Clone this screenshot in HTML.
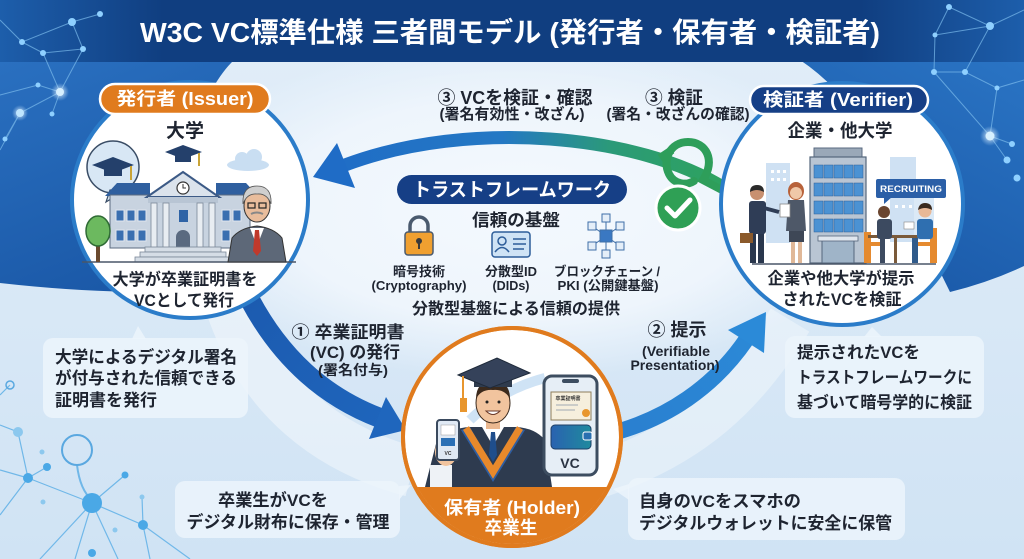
<!DOCTYPE html>
<html><head><meta charset="utf-8">
<style>
html,body{margin:0;padding:0;width:1024px;height:559px;overflow:hidden;background:#d6e7f6}
svg{display:block}
text{font-family:"Liberation Sans","Noto Sans CJK JP",sans-serif;font-weight:bold}
</style></head><body>
<svg width="1024" height="559" viewBox="0 0 1024 559" xmlns="http://www.w3.org/2000/svg">
<defs>
 <linearGradient id="bgG" x1="0" y1="0" x2="0" y2="1"><stop offset="0" stop-color="#e2eef9"/><stop offset="1" stop-color="#d0e3f4"/></linearGradient>
 <radialGradient id="midG" cx="0.5" cy="0.5" r="0.5"><stop offset="0" stop-color="#f4f9fe"/><stop offset="0.65" stop-color="#eef5fc"/><stop offset="1" stop-color="#eef5fc" stop-opacity="0"/></radialGradient>
 <linearGradient id="titleG" x1="0" x2="1"><stop offset="0" stop-color="#1d5eab"/><stop offset="0.16" stop-color="#103e80"/><stop offset="0.84" stop-color="#103e80"/><stop offset="1" stop-color="#1d5eab"/></linearGradient>
 <linearGradient id="leftB" x1="0" y1="0" x2="0.4" y2="1"><stop offset="0" stop-color="#2a70c0"/><stop offset="1" stop-color="#1b59a8"/></linearGradient>
 <linearGradient id="rightB" x1="1" y1="0" x2="0.5" y2="1"><stop offset="0" stop-color="#2a74c4"/><stop offset="1" stop-color="#1b5aa9"/></linearGradient>
 <linearGradient id="arr3" gradientUnits="userSpaceOnUse" x1="320" y1="0" x2="725" y2="0"><stop offset="0" stop-color="#1f6cc6"/><stop offset="0.45" stop-color="#2478c4"/><stop offset="0.72" stop-color="#2b9a78"/><stop offset="1" stop-color="#2ea35e"/></linearGradient>
 <linearGradient id="arr1" gradientUnits="userSpaceOnUse" x1="250" y1="300" x2="400" y2="430"><stop offset="0" stop-color="#1c5bb0"/><stop offset="1" stop-color="#1f66bd"/></linearGradient>
 <linearGradient id="arr2" gradientUnits="userSpaceOnUse" x1="610" y1="430" x2="765" y2="315"><stop offset="0" stop-color="#2a7fcf"/><stop offset="1" stop-color="#2b8ad8"/></linearGradient>
 <linearGradient id="walG" x1="0" x2="1"><stop offset="0" stop-color="#2a62b0"/><stop offset="1" stop-color="#1f8a9e"/></linearGradient>
 <clipPath id="holdClip"><circle cx="512" cy="437" r="107"/></clipPath>
 <radialGradient id="glow"><stop offset="0" stop-color="#ffffff" stop-opacity="0.9"/><stop offset="1" stop-color="#bfe2ff" stop-opacity="0"/></radialGradient>
</defs>

<!-- background -->
<rect width="1024" height="559" fill="url(#bgG)"/>
<ellipse cx="515" cy="210" rx="360" ry="170" fill="url(#midG)"/>
<path d="M0,60 H234 C215,78 200,110 185,150 L150,292 Q80,292 0,283 Z" fill="url(#leftB)"/>
<path d="M800,60 H1024 V266 Q990,282 950,292 L880,150 Q845,90 800,60 Z" fill="url(#rightB)"/>
<rect x="0" y="0" width="1024" height="62" fill="url(#titleG)"/>

<!-- network top-left -->
<g stroke="#7cbcec" stroke-width="1" opacity="0.7" fill="none">
 <path d="M100,14 L72,22 L22,42 L43,53 L83,49 L72,22"/>
 <path d="M22,42 L0,20 M43,53 L60,92 L20,113 L5,139 M60,92 L52,114 M60,92 L38,85 L0,95 M83,49 L60,92 M20,113 L0,150"/>
</g>
<g fill="#8fd0ff">
 <circle cx="100" cy="14" r="3"/><circle cx="72" cy="22" r="4"/><circle cx="22" cy="42" r="3"/><circle cx="43" cy="53" r="3"/><circle cx="83" cy="49" r="3"/><circle cx="38" cy="85" r="2.5"/><circle cx="52" cy="114" r="2.5"/><circle cx="5" cy="139" r="2.5"/>
</g>
<circle cx="60" cy="92" r="9" fill="url(#glow)"/><circle cx="60" cy="92" r="4" fill="#d7f0ff"/>
<circle cx="20" cy="113" r="8" fill="url(#glow)"/><circle cx="20" cy="113" r="4" fill="#bfe6ff"/>

<!-- network top-right -->
<g stroke="#7cbcec" stroke-width="1" opacity="0.7" fill="none">
 <path d="M949,7 L990,26 L935,35 L934,72 L965,72 L997,88 L990,136 L1012,144 M990,26 L1024,10 M965,72 L990,26 M934,72 L990,136 M997,88 L1024,80 M990,136 L1007,160 M949,7 L935,35"/>
</g>
<g fill="#8fd0ff">
 <circle cx="949" cy="7" r="3"/><circle cx="990" cy="26" r="4"/><circle cx="935" cy="35" r="2.5"/><circle cx="934" cy="72" r="3"/><circle cx="965" cy="72" r="3"/><circle cx="997" cy="88" r="2.5"/><circle cx="1012" cy="144" r="3"/><circle cx="1007" cy="160" r="3.5"/><circle cx="1017" cy="178" r="3.5"/>
</g>
<circle cx="990" cy="136" r="10" fill="url(#glow)"/><circle cx="990" cy="136" r="4.5" fill="#d7f0ff"/>

<!-- network bottom-left -->
<g stroke="#5fb0e6" stroke-width="1.2" fill="none" opacity="0.85">
 <path d="M28,478 L18,432 L0,425 M28,478 L0,470 M28,478 L92,503 L143,525 L190,559 M92,503 L125,475 M92,503 L40,559 M92,503 L75,559 M92,503 L118,559 M143,525 L142,497 M143,525 L150,559 M28,478 L0,515 M28,478 L47,467 M0,395 L10,385"/>
 <path d="M77,465 Q80,490 92,500" stroke-width="2"/>
</g>
<circle cx="77" cy="450" r="15" fill="none" stroke="#5aa8e0" stroke-width="2"/>
<circle cx="10" cy="385" r="4" fill="none" stroke="#5aa8e0" stroke-width="1.5"/>
<g fill="#4aa8e6">
 <circle cx="92" cy="503" r="10"/><circle cx="28" cy="478" r="5"/><circle cx="143" cy="525" r="5"/><circle cx="92" cy="553" r="4"/>
 <circle cx="125" cy="475" r="3.5"/><circle cx="47" cy="467" r="4"/>
</g>
<g fill="#8cc8ee">
 <circle cx="18" cy="432" r="5"/><circle cx="42" cy="452" r="2.5"/><circle cx="142" cy="497" r="2.5"/><circle cx="43" cy="502" r="2.5"/><circle cx="115" cy="530" r="2.5"/>
</g>

<!-- light swooshes -->
<path d="M230,305 C262,400 330,450 412,472" stroke="#ffffff" stroke-opacity="0.4" stroke-width="50" fill="none"/>
<path d="M600,475 C690,445 745,395 790,320" stroke="#ffffff" stroke-opacity="0.35" stroke-width="45" fill="none"/>

<!-- callout boxes -->
<g fill="#ecf4fc" fill-opacity="0.85">
 <rect x="43" y="338" width="205" height="80" rx="10"/>
 <polygon points="132,339 146,339 138,326"/>
 <rect x="175" y="481" width="225" height="57" rx="10"/>
 <polygon points="399,486 399,500 411,485"/>
 <rect x="785" y="336" width="199" height="82" rx="10"/>
 <polygon points="864,337 882,337 872,327"/>
 <rect x="628" y="478" width="277" height="62" rx="10"/>
 <polygon points="629,484 629,500 613,489"/>
</g>

<!-- arrow 3 (top) -->
<path d="M724,188 C640,135 470,118 345,165" stroke="url(#arr3)" stroke-width="13" fill="none"/>
<polygon points="313,177 337,143 355,188" fill="#1f6cc6"/>
<!-- green loop & check -->
<path d="M722,190 L703,180 C716,160 706,142 688,142 C670,142 662,160 669,174 C674,184 686,186 694,181" stroke="#2e9e5a" stroke-width="8" fill="none" stroke-linecap="round"/>
<path d="M672,150 L660,158" stroke="#2e9e5a" stroke-width="8" fill="none"/>
<circle cx="678" cy="208" r="22" fill="#2fa055" stroke="#ffffff" stroke-width="3"/>
<path d="M667,208 L675,216 L690,200" stroke="#ffffff" stroke-width="5" fill="none" stroke-linecap="round" stroke-linejoin="round"/>

<!-- arrow 1 -->
<path d="M250,300 C280,356 322,396 380,418" stroke="url(#arr1)" stroke-width="20" fill="none"/>
<polygon points="406,430 386,397 369,439" fill="#1f66bd"/>
<!-- arrow 2 -->
<path d="M605,435 C668,420 715,385 746,340" stroke="url(#arr2)" stroke-width="16" fill="none"/>
<polygon points="766,312 728,330 764,353" fill="#2b8ad8"/>

<!-- LEFT CIRCLE: Issuer -->
<circle cx="190" cy="200" r="118" fill="#ffffff" stroke="#2b7cc9" stroke-width="4"/>
<g fill="#c9def2"><ellipse cx="248" cy="165" rx="21" ry="6"/><circle cx="242" cy="159" r="7"/><circle cx="254" cy="157" r="8"/></g>
<circle cx="113" cy="167" r="26" fill="#d8e7f5" stroke="#3a4d66" stroke-width="1.5"/>
<polygon points="110,190 124,191 106,202" fill="#d8e7f5" stroke="#3a4d66" stroke-width="1.2"/>
<polygon points="92,165 113,157 134,165 113,173" fill="#24406b"/>
<rect x="104" y="168" width="18" height="8" fill="#24406b"/>
<path d="M131,166 V180" stroke="#c9a437" stroke-width="2"/>
<polygon points="165,152 183,145 202,152 183,159" fill="#24406b"/>
<rect x="175" y="155" width="16" height="7" fill="#24406b"/>
<path d="M199,153 V166" stroke="#c9a437" stroke-width="2"/>
<polygon points="105,196 117,183 150,183 150,196" fill="#2f5f9f"/>
<polygon points="216,183 246,183 258,196 216,196" fill="#2f5f9f"/>
<rect x="110" y="195" width="140" height="53" fill="#c8d3e0" stroke="#5b6b80"/>
<polygon points="147,197 183,172 219,197" fill="#dbe3ec" stroke="#3c5a86" stroke-width="2"/>
<circle cx="183" cy="188" r="6" fill="#fff" stroke="#333" stroke-width="1.2"/>
<path d="M183,184 V188 H186" stroke="#333" stroke-width="1" fill="none"/>
<rect x="148" y="197" width="70" height="6" fill="#b8c5d4"/>
<g fill="#e8edf2" stroke="#7a8898" stroke-width="0.8">
 <rect x="151" y="203" width="6" height="45"/><rect x="163" y="203" width="6" height="45"/><rect x="197" y="203" width="6" height="45"/><rect x="209" y="203" width="6" height="45"/>
</g>
<rect x="179" y="210" width="9" height="12" fill="#2e63a6"/>
<path d="M176,248 V237 a7,7 0 0,1 14,0 V248 Z" fill="#5a6a80"/>
<g fill="#3a6fb0" stroke="#e0e6ee" stroke-width="1">
 <rect x="116" y="210" width="8" height="11"/><rect x="127" y="210" width="8" height="11"/><rect x="138" y="210" width="8" height="11"/>
 <rect x="116" y="230" width="8" height="11"/><rect x="127" y="230" width="8" height="11"/><rect x="138" y="230" width="8" height="11"/>
 <rect x="222" y="210" width="8" height="11"/><rect x="233" y="210" width="8" height="11"/><rect x="222" y="230" width="8" height="11"/>
</g>
<rect x="145" y="247" width="76" height="5" fill="#d5dde6" stroke="#7a8898" stroke-width="0.8"/>
<rect x="140" y="252" width="86" height="5" fill="#d5dde6" stroke="#7a8898" stroke-width="0.8"/>
<rect x="135" y="257" width="96" height="5" fill="#d5dde6" stroke="#7a8898" stroke-width="0.8"/>
<path d="M82,262 H296" stroke="#4a5668" stroke-width="1.5"/>
<rect x="96" y="238" width="4" height="24" fill="#6b4a2f"/>
<ellipse cx="98" cy="231" rx="12" ry="15" fill="#6cb95f" stroke="#2f6b35" stroke-width="1.5"/>
<path d="M228,262 L232,238 Q240,228 257,226 Q274,228 282,238 L286,262 Z" fill="#5d6878" stroke="#333" stroke-width="1"/>
<polygon points="250,228 257,246 264,228" fill="#fff"/>
<polygon points="255,230 259,230 261,251 257,256 253,251" fill="#c0392b"/>
<ellipse cx="257" cy="206" rx="13" ry="16" fill="#e9bd9c" stroke="#333" stroke-width="1"/>
<path d="M243,204 Q242,186 257,186 Q272,186 271,204 Q267,193 257,194 Q247,193 243,204 Z" fill="#cfcfcf" stroke="#555" stroke-width="0.8"/>
<g fill="none" stroke="#222" stroke-width="1.2"><rect x="248" y="203" width="7" height="5"/><rect x="259" y="203" width="7" height="5"/></g>
<path d="M251,214 Q257,211 263,214" stroke="#888" stroke-width="2" fill="none"/>

<rect x="100" y="84" width="170" height="30" rx="15" fill="#e07b1e" stroke="#ffffff" stroke-width="2.5"/>
<text x="185" y="105" font-size="18" fill="#fff" text-anchor="middle" textLength="137" lengthAdjust="spacingAndGlyphs">発行者 (Issuer)</text>
<text x="185" y="137" font-size="19" fill="#1e2430" text-anchor="middle">大学</text>
<text x="185" y="285" font-size="16.5" fill="#1e2430" text-anchor="middle" textLength="145" lengthAdjust="spacingAndGlyphs">大学が卒業証明書を</text>
<text x="184" y="306" font-size="16.5" fill="#1e2430" text-anchor="middle" textLength="100" lengthAdjust="spacingAndGlyphs">VCとして発行</text>

<!-- RIGHT CIRCLE: Verifier -->
<circle cx="842" cy="204" r="121" fill="#ffffff" stroke="#2b7cc9" stroke-width="4"/>
<rect x="766" y="163" width="24" height="80" fill="#cfe1f3"/>
<rect x="890" y="157" width="26" height="85" fill="#cfe1f3"/>
<rect x="914" y="190" width="20" height="50" fill="#dbe9f6"/>
<g fill="#ffffff"><rect x="771" y="170" width="3" height="3"/><rect x="777" y="170" width="3" height="3"/><rect x="783" y="170" width="3" height="3"/><rect x="771" y="178" width="3" height="3"/><rect x="777" y="178" width="3" height="3"/><rect x="783" y="178" width="3" height="3"/><rect x="895" y="205" width="3" height="3"/><rect x="902" y="205" width="3" height="3"/><rect x="909" y="205" width="3" height="3"/></g>
<rect x="814" y="148" width="48" height="10" fill="#9aa8b8" stroke="#5a6a80"/>
<rect x="810" y="157" width="56" height="106" fill="#b9c5d3" stroke="#55667c" stroke-width="1.2"/>
<g fill="#4b92d3" stroke="#2f5f95" stroke-width="0.5">
 <rect x="814" y="165" width="9" height="13"/><rect x="824" y="165" width="9" height="13"/><rect x="834" y="165" width="9" height="13"/><rect x="844" y="165" width="9" height="13"/><rect x="854" y="165" width="9" height="13"/>
 <rect x="814" y="183" width="9" height="13"/><rect x="824" y="183" width="9" height="13"/><rect x="834" y="183" width="9" height="13"/><rect x="844" y="183" width="9" height="13"/><rect x="854" y="183" width="9" height="13"/>
 <rect x="814" y="201" width="9" height="13"/><rect x="824" y="201" width="9" height="13"/><rect x="834" y="201" width="9" height="13"/><rect x="844" y="201" width="9" height="13"/><rect x="854" y="201" width="9" height="13"/>
 <rect x="814" y="219" width="9" height="13"/><rect x="824" y="219" width="9" height="13"/><rect x="834" y="219" width="9" height="13"/><rect x="844" y="219" width="9" height="13"/><rect x="854" y="219" width="9" height="13"/>
</g>
<rect x="822" y="240" width="32" height="23" fill="#9fb4c8" stroke="#55667c"/>
<rect x="818" y="236" width="40" height="5" fill="#dfe6ee" stroke="#55667c" stroke-width="0.8"/>
<rect x="876" y="179" width="70" height="19" rx="2" fill="#2b5fa7"/>
<polygon points="884,197 892,197 884,204" fill="#2b5fa7"/>
<text x="911" y="192" font-size="9" fill="#fff" text-anchor="middle" textLength="62" lengthAdjust="spacingAndGlyphs">RECRUITING</text>
<path d="M752,264 H936" stroke="#4a5668" stroke-width="1.5"/>
<rect x="750" y="232" width="6" height="31" fill="#2a374d"/><rect x="758" y="232" width="6" height="31" fill="#2a374d"/>
<rect x="749" y="201" width="17" height="33" rx="3" fill="#2f3d56"/>
<path d="M764,208 L779,212" stroke="#2f3d56" stroke-width="4"/>
<rect x="740" y="233" width="13" height="10" fill="#8b5a2b"/>
<circle cx="757" cy="193" r="7" fill="#c89070"/><path d="M750,192 Q750,185 757,185 Q764,185 764,192 Q757,188 750,192 Z" fill="#2a2a2a"/>
<rect x="791" y="241" width="4" height="22" fill="#e0b898"/><rect x="798" y="241" width="4" height="22" fill="#e0b898"/>
<rect x="789" y="229" width="15" height="13" fill="#3e4756"/>
<polygon points="788,200 804,200 806,231 786,231" fill="#4e5868"/>
<ellipse cx="796" cy="191" rx="8" ry="9" fill="#b8623a"/>
<circle cx="796" cy="193" r="6" fill="#f0c8a8"/>
<rect x="780" y="204" width="10" height="13" fill="#fff" stroke="#888" stroke-width="0.8"/>
<rect x="864" y="232" width="7" height="31" fill="#e58a2f"/><rect x="866" y="242" width="14" height="4" fill="#e58a2f"/>
<rect x="930" y="228" width="7" height="35" fill="#e58a2f"/><rect x="918" y="242" width="16" height="4" fill="#e58a2f"/>
<rect x="868" y="235" width="56" height="3" fill="#7a5a3a"/><rect x="894" y="238" width="3" height="25" fill="#7a5a3a"/>
<rect x="877" y="219" width="15" height="20" rx="3" fill="#3c4a60"/>
<rect x="880" y="238" width="5" height="25" fill="#3c4a60"/>
<circle cx="884" cy="212" r="6" fill="#6b4630"/>
<rect x="917" y="219" width="16" height="20" rx="3" fill="#2f6fb0"/>
<rect x="912" y="238" width="6" height="25" fill="#2f5a8a"/>
<circle cx="925" cy="211" r="6.5" fill="#e8b896"/><path d="M918,210 Q919,203 925,203 Q932,203 932,210 Q925,206 918,210 Z" fill="#3a2a1e"/>
<rect x="904" y="222" width="10" height="7" fill="#fff" stroke="#888" stroke-width="0.6"/>

<rect x="750" y="86" width="178" height="28" rx="14" fill="#163f86" stroke="#ffffff" stroke-width="2.5"/>
<text x="838" y="106" font-size="18" fill="#fff" text-anchor="middle" textLength="150" lengthAdjust="spacingAndGlyphs">検証者 (Verifier)</text>
<text x="840" y="137" font-size="18" fill="#1e2430" text-anchor="middle" textLength="105" lengthAdjust="spacingAndGlyphs">企業・他大学</text>
<text x="841" y="284" font-size="16.5" fill="#1e2430" text-anchor="middle" textLength="147" lengthAdjust="spacingAndGlyphs">企業や他大学が提示</text>
<text x="842" y="305" font-size="16.5" fill="#1e2430" text-anchor="middle" textLength="119" lengthAdjust="spacingAndGlyphs">されたVCを検証</text>

<!-- HOLDER CIRCLE -->
<circle cx="512" cy="437" r="109" fill="#ffffff" stroke="#e07b1e" stroke-width="4"/>
<g clip-path="url(#holdClip)">
 <path d="M470,420 Q500,390 545,378" stroke="#cfe3f5" stroke-width="10" fill="none"/>
 <path d="M425,487 L437,440 Q450,428 470,427 L516,427 Q535,428 545,440 L552,487 Z" fill="#2e3b4f"/>
 <polygon points="461,430 470,427 493,468 516,427 525,430 493,482" fill="#2f5ea2"/>
 <polyline points="466,428 493,472 520,428" stroke="#e8892b" stroke-width="7" fill="none"/>
 <polygon points="482,427 493,446 504,427" fill="#fff"/>
 <polygon points="491,432 495,432 497,455 493,462 489,455" fill="#1f4e8c"/>
 <rect x="486" y="417" width="14" height="12" fill="#eab890"/>
 <ellipse cx="493" cy="403" rx="17" ry="20" fill="#f1c49e" stroke="#3a2a1e" stroke-width="1"/>
 <path d="M476,399 Q476,381 493,381 Q510,381 510,399 Q505,389 493,390 Q481,389 476,399 Z" fill="#3c2a1c"/>
 <circle cx="487" cy="402" r="1.5" fill="#222"/><circle cx="499" cy="402" r="1.5" fill="#222"/>
 <path d="M486,411 Q493,418 500,411 Z" fill="#fff" stroke="#6b3a2a" stroke-width="1"/>
 <rect x="474" y="378" width="38" height="9" fill="#2f3b4d"/>
 <polygon points="458,375 497,358 530,373 490,388" fill="#35425a" stroke="#1f2a3a" stroke-width="1"/>
 <path d="M463,376 V400" stroke="#e8962e" stroke-width="2"/>
 <rect x="460" y="398" width="7" height="14" fill="#e8962e"/>
 <rect x="430" y="465" width="22" height="25" fill="#eef2f6"/>
 <ellipse cx="446" cy="452" rx="11" ry="14" fill="#f1c49e"/>
 <rect x="437" y="420" width="22" height="40" rx="3" fill="#dfe9f4" stroke="#3a4a5e" stroke-width="2"/>
 <rect x="441" y="425" width="14" height="10" fill="#fff" stroke="#999" stroke-width="0.5"/>
 <rect x="441" y="438" width="14" height="8" fill="#2a70b5"/>
 <text x="448" y="455" font-size="5" fill="#333" text-anchor="middle">VC</text>
 <rect x="544" y="376" width="53" height="99" rx="8" fill="#e6eef6" stroke="#3d4d60" stroke-width="3"/>
 <rect x="562" y="379" width="17" height="4" rx="2" fill="#3d4d60"/>
 <rect x="551" y="392" width="40" height="28" fill="#f6efdd" stroke="#8d7d5c" stroke-width="1"/>
 <text x="568" y="400" font-size="5" fill="#333" text-anchor="middle">卒業証明書</text>
 <path d="M556,405 H578 M556,410 H575" stroke="#a0a8b4" stroke-width="1"/>
 <circle cx="586" cy="413" r="4" fill="#e8962e"/>
 <rect x="551" y="425" width="40" height="24" rx="4" fill="url(#walG)" stroke="#1e3f66" stroke-width="1"/>
 <rect x="583" y="432" width="9" height="8" rx="2" fill="#2a6fb0" stroke="#fff" stroke-width="1"/>
 <text x="570" y="468" font-size="14" fill="#2a3342" text-anchor="middle">VC</text>
 <rect x="400" y="487" width="230" height="80" fill="#e07b1e"/>
</g>
<circle cx="512" cy="437" r="109" fill="none" stroke="#e07b1e" stroke-width="4"/>
<text x="512" y="514" font-size="18" fill="#fff" text-anchor="middle" textLength="136" lengthAdjust="spacingAndGlyphs">保有者 (Holder)</text>
<text x="511" y="534" font-size="18" fill="#fff" text-anchor="middle" textLength="53" lengthAdjust="spacingAndGlyphs">卒業生</text>

<!-- trust framework -->
<rect x="397" y="175" width="230" height="29" rx="14.5" fill="#163f86"/>
<text x="512" y="196" font-size="19" fill="#fff" text-anchor="middle" textLength="198" lengthAdjust="spacingAndGlyphs">トラストフレームワーク</text>
<text x="516" y="226" font-size="17" fill="#1e2430" text-anchor="middle" textLength="88" lengthAdjust="spacingAndGlyphs">信頼の基盤</text>
<path d="M410,233 V226 a9,9 0 0,1 18,0 V233" stroke="#4a5a6e" stroke-width="3.5" fill="none"/>
<rect x="405" y="232" width="28" height="23" rx="3" fill="#f0a030" stroke="#4a5a6e" stroke-width="1.5"/>
<circle cx="419" cy="241" r="3" fill="#3a3a3a"/><rect x="418" y="242" width="2" height="7" fill="#3a3a3a"/>
<rect x="492" y="232" width="38" height="25" rx="3" fill="#cfe3f5" stroke="#2d5d99" stroke-width="1.5"/>
<circle cx="502" cy="241" r="4" fill="none" stroke="#2d5d99" stroke-width="1.5"/>
<path d="M495,252 Q502,243 509,252" stroke="#2d5d99" stroke-width="1.5" fill="none"/>
<path d="M513,239 H526 M513,244 H526 M513,249 H524" stroke="#2d5d99" stroke-width="1.5"/>
<g stroke="#3f6fa8" stroke-width="1" fill="#e4eef8">
 <path d="M606,236 L592,226 M606,236 L620,226 M606,236 L592,246 M606,236 L620,246 M606,236 V218 M606,236 V254" fill="none"/>
 <rect x="602" y="214" width="8" height="8"/><rect x="588" y="222" width="8" height="8"/><rect x="616" y="222" width="8" height="8"/>
 <rect x="588" y="242" width="8" height="8"/><rect x="616" y="242" width="8" height="8"/><rect x="602" y="250" width="8" height="8"/>
 <rect x="600" y="230" width="12" height="12" fill="#3a78c2"/>
</g>
<g font-size="13" fill="#1e2430" text-anchor="middle">
 <text x="419" y="276" textLength="52" lengthAdjust="spacingAndGlyphs">暗号技術</text>
 <text x="419" y="290" textLength="95" lengthAdjust="spacingAndGlyphs">(Cryptography)</text>
 <text x="511" y="276" textLength="52" lengthAdjust="spacingAndGlyphs">分散型ID</text>
 <text x="511" y="290" textLength="37" lengthAdjust="spacingAndGlyphs">(DIDs)</text>
 <text x="607" y="276" textLength="106" lengthAdjust="spacingAndGlyphs">ブロックチェーン /</text>
 <text x="608" y="290" textLength="101" lengthAdjust="spacingAndGlyphs">PKI (公開鍵基盤)</text>
</g>
<text x="516" y="314" font-size="16" fill="#1e2430" text-anchor="middle" textLength="208" lengthAdjust="spacingAndGlyphs">分散型基盤による信頼の提供</text>

<!-- top labels -->
<text x="515" y="104" font-size="18" fill="#1e2430" text-anchor="middle" textLength="155" lengthAdjust="spacingAndGlyphs">③ VCを検証・確認</text>
<text x="512" y="119" font-size="15" fill="#1e2430" text-anchor="middle" textLength="145" lengthAdjust="spacingAndGlyphs">(署名有効性・改ざん)</text>
<text x="674" y="104" font-size="18" fill="#1e2430" text-anchor="middle" textLength="58" lengthAdjust="spacingAndGlyphs">③ 検証</text>
<text x="678" y="119" font-size="15" fill="#1e2430" text-anchor="middle" textLength="143" lengthAdjust="spacingAndGlyphs">(署名・改ざんの確認)</text>

<text x="348" y="338" font-size="17" fill="#1e2430" text-anchor="middle" textLength="113" lengthAdjust="spacingAndGlyphs">① 卒業証明書</text>
<text x="355" y="358" font-size="17" fill="#1e2430" text-anchor="middle" textLength="90" lengthAdjust="spacingAndGlyphs">(VC) の発行</text>
<text x="353" y="375" font-size="14" fill="#1e2430" text-anchor="middle" textLength="70" lengthAdjust="spacingAndGlyphs">(署名付与)</text>
<text x="677" y="336" font-size="18" fill="#1e2430" text-anchor="middle" textLength="59" lengthAdjust="spacingAndGlyphs">② 提示</text>
<text x="676" y="356" font-size="14" fill="#1e2430" text-anchor="middle" textLength="68" lengthAdjust="spacingAndGlyphs">(Verifiable</text>
<text x="675" y="370" font-size="14" fill="#1e2430" text-anchor="middle" textLength="89" lengthAdjust="spacingAndGlyphs">Presentation)</text>

<g font-size="17" fill="#1e2430">
 <text x="55" y="363" textLength="182" lengthAdjust="spacingAndGlyphs">大学によるデジタル署名</text>
 <text x="55" y="384" textLength="182" lengthAdjust="spacingAndGlyphs">が付与された信頼できる</text>
 <text x="55" y="406" textLength="102" lengthAdjust="spacingAndGlyphs">証明書を発行</text>
 <text x="273" y="506" text-anchor="middle" textLength="110" lengthAdjust="spacingAndGlyphs">卒業生がVCを</text>
 <text x="288" y="528" text-anchor="middle" textLength="203" lengthAdjust="spacingAndGlyphs">デジタル財布に保存・管理</text>
 <text x="639" y="507" textLength="162" lengthAdjust="spacingAndGlyphs">自身のVCをスマホの</text>
 <text x="639" y="529" textLength="253" lengthAdjust="spacingAndGlyphs">デジタルウォレットに安全に保管</text>
</g>
<g font-size="16.5" fill="#1e2430">
 <text x="797" y="358" textLength="123" lengthAdjust="spacingAndGlyphs">提示されたVCを</text>
 <text x="797" y="383" textLength="175" lengthAdjust="spacingAndGlyphs">トラストフレームワークに</text>
 <text x="797" y="408" textLength="175" lengthAdjust="spacingAndGlyphs">基づいて暗号学的に検証</text>
</g>

<text x="510" y="42" font-size="28" fill="#ffffff" text-anchor="middle" textLength="740" lengthAdjust="spacingAndGlyphs">W3C VC標準仕様 三者間モデル (発行者・保有者・検証者)</text>
</svg>
</body></html>
